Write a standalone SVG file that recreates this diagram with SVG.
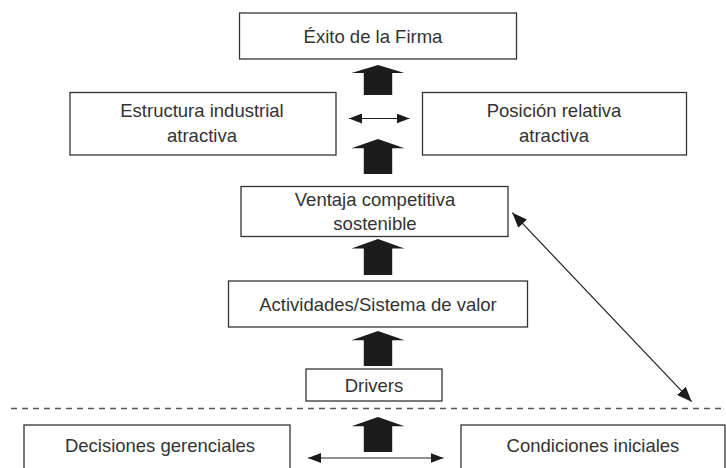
<svg xmlns="http://www.w3.org/2000/svg" width="726" height="468" viewBox="0 0 726 468">
<defs>
<style>
.box{fill:#fff;stroke:#333;stroke-width:1.3}
.t{font-family:"Liberation Sans",Arial,sans-serif;font-size:18.5px;fill:#333;text-anchor:middle}
.big{fill:#1c1c1c}
.ln{stroke:#222;stroke-width:1.2;fill:none}
.dash{stroke:#555;stroke-width:1.3;stroke-dasharray:6 5;fill:none}
</style>
<marker id="ah" viewBox="0 0 15 12" refX="15" refY="6" markerWidth="15" markerHeight="12" markerUnits="userSpaceOnUse" orient="auto-start-reverse"><path d="M0,0 L15,6 L0,12 z" fill="#1c1c1c"/></marker>
<marker id="ahs" viewBox="0 0 13 10" refX="13" refY="5" markerWidth="13" markerHeight="10" markerUnits="userSpaceOnUse" orient="auto-start-reverse"><path d="M0,0 L13,5 L0,10 z" fill="#1c1c1c"/></marker>
<path id="bigarrow" d="M0,0 L26.5,8 L14.2,8 L14.2,30 L-14.2,30 L-14.2,8 L-26.5,8 Z"/>
</defs>

<g id="exito">
<rect class="box" x="239.5" y="13" width="277" height="46"/>
<text class="t" x="373" y="42.5">Éxito de la Firma</text>
</g>
<g id="estructura">
<rect class="box" x="70" y="92.5" width="266" height="62.5"/>
<text class="t" x="202" y="117">Estructura industrial</text>
<text class="t" x="202" y="142">atractiva</text>
</g>
<g id="posicion">
<rect class="box" x="422.5" y="92.5" width="264" height="62.5"/>
<text class="t" x="554" y="117">Posición relativa</text>
<text class="t" x="554" y="142">atractiva</text>
</g>
<g id="ventaja">
<rect class="box" x="241" y="186.5" width="267" height="50"/>
<text class="t" x="375" y="205.5">Ventaja competitiva</text>
<text class="t" x="375" y="229.5">sostenible</text>
</g>
<g id="actividades">
<rect class="box" x="228.5" y="281" width="299" height="46"/>
<text class="t" x="378" y="311">Actividades/Sistema de valor</text>
</g>
<g id="drivers">
<rect class="box" x="306" y="369" width="136" height="32"/>
<text class="t" x="374" y="391.5">Drivers</text>
</g>
<g id="decisiones">
<rect class="box" x="24" y="425" width="266" height="50"/>
<text class="t" x="160" y="452">Decisiones gerenciales</text>
</g>
<g id="condiciones">
<rect class="box" x="461" y="425" width="264" height="50"/>
<text class="t" x="593" y="452">Condiciones iniciales</text>
</g>

<g id="connectors">
<use href="#bigarrow" class="big" x="378" y="65"/>
<use href="#bigarrow" class="big" transform="translate(378,139) scale(1,1.17)"/>
<use href="#bigarrow" class="big" transform="translate(378,239) scale(1,1.2)"/>
<use href="#bigarrow" class="big" transform="translate(378,331) scale(1,1.17)"/>
<use href="#bigarrow" class="big" transform="translate(378,417) scale(1,1.17)"/>
<line class="ln" x1="349" y1="118.5" x2="409.5" y2="118.5" marker-start="url(#ahs)" marker-end="url(#ahs)"/>
<line class="ln" x1="308" y1="458" x2="443.5" y2="458" marker-start="url(#ahs)" marker-end="url(#ahs)"/>
<line class="ln" x1="512.3" y1="212.7" x2="691.7" y2="401.7" marker-start="url(#ah)" marker-end="url(#ah)"/>
<line class="dash" x1="11" y1="408.5" x2="726" y2="408.5"/>
</g>
</svg>
